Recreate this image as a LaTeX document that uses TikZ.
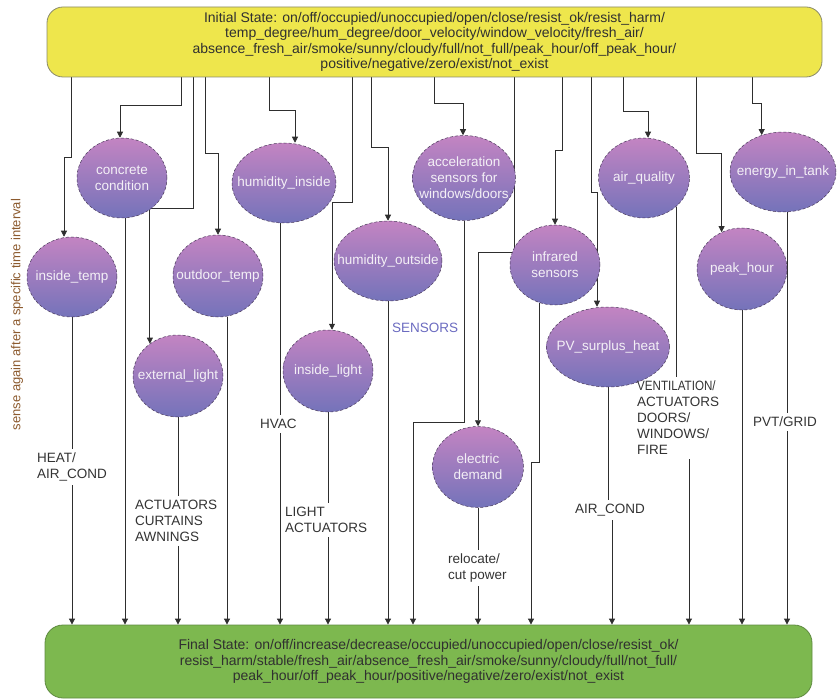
\documentclass[tikz,border=0pt]{standalone}
\usepackage{fontspec}
\usepackage{graphicx}
\setmainfont{Liberation Sans}
\usetikzlibrary{shapes.geometric,arrows.meta,calc}
\pgfdeclarelayer{bg}
\pgfsetlayers{bg,main}
\definecolor{topfill}{HTML}{EEE64C}
\definecolor{topdraw}{HTML}{8A8A6A}
\definecolor{botfill}{HTML}{7DB84F}
\definecolor{botdraw}{HTML}{5E8A40}
\definecolor{ellTop}{HTML}{C384C2}
\definecolor{ellBot}{HTML}{7473BA}
\definecolor{ellLine}{HTML}{4A3A5A}
\definecolor{lineC}{HTML}{2E2E2E}
\definecolor{lblC}{HTML}{333333}
\definecolor{boxTxt}{HTML}{303030}
\definecolor{sensC}{HTML}{6B6BC0}
\definecolor{sideC}{HTML}{8C5A2E}
\definecolor{ellTxt}{HTML}{F4F0F6}
\newcommand\ellnode[5]{%
  \node[ell, minimum width=#3pt, minimum height=#4pt] (#1) at (#2) {};
  \node[elltext] (#1t) at (#1.center) {#5};}
\begin{document}
\begin{tikzpicture}[x=1pt,y=-1pt,
  statebox/.style={line width=0.8pt, inner sep=0pt, align=center, text=boxTxt, font=\fontsize{14}{15.5}\selectfont},
  ell/.style={ellipse, draw=ellLine, densely dashed, line width=0.5pt, top color=ellTop, bottom color=ellBot, inner sep=0pt},
  elltext/.style={align=center, text=ellTxt, font=\fontsize{13.5}{16}\selectfont, inner sep=0pt},
  lbl/.style={align=left, text=lblC, font=\fontsize{13.5}{16}\selectfont, inner xsep=0pt, inner ysep=4pt, anchor=west},
  ln/.style={draw=lineC, line width=0.8pt},
  arr/.style={ln, -{Triangle[length=6pt,width=6pt]}},
]
\useasboundingbox (0,0) rectangle (837,700);

\node[statebox, rounded corners=16pt, fill=topfill, draw=topdraw, minimum width=775pt, minimum height=70pt] (init) at (434.5,42)
 {Initial State: on/off/occupied/unoccupied/open/close/resist\_ok/resist\_harm/\\
  temp\_degree/hum\_degree/door\_velocity/window\_velocity/fresh\_air/\\
  absence\_fresh\_air/smoke/sunny/cloudy/full/not\_full/peak\_hour/off\_peak\_hour/\\
  positive/negative/zero/exist/not\_exist};

\node[statebox, rounded corners=18pt, fill=botfill, draw=botdraw, minimum width=767pt, minimum height=73pt] (fin) at (428.5,661.5)
 {Final State: on/off/increase/decrease/occupied/unoccupied/open/close/resist\_ok/\\
  resist\_harm/stable/fresh\_air/absence\_fresh\_air/smoke/sunny/cloudy/full/not\_full/\\
  peak\_hour/off\_peak\_hour/positive/negative/zero/exist/not\_exist};

\ellnode{it}{72,277}{90}{80}{inside\_temp}
\ellnode{cc}{122,178}{90}{80}{concrete\\condition}
\ellnode{ot}{218,276}{90}{82}{outdoor\_temp}
\ellnode{hi}{284,183}{104}{80}{humidity\_inside}
\ellnode{ho}{388,261}{108}{80}{humidity\_outside}
\ellnode{ac}{464,178}{103}{85}{acceleration\\sensors for\\windows/doors}
\ellnode{ir}{555,265}{90}{80}{infrared\\sensors}
\ellnode{pv}{608,347}{123}{80}{PV\_surplus\_heat}
\ellnode{ed}{478,467}{91}{81}{electric\\demand}
\ellnode{aq}{644,178}{91}{80}{air\_quality}
\ellnode{et}{783,172}{106}{80}{energy\_in\_tank}
\ellnode{ph}{742,269}{90}{82}{peak\_hour}
\ellnode{el}{178,376}{90}{82}{external\_light}
\ellnode{il}{328,371}{90}{82}{inside\_light}

\node[lbl] (heat) at (37,467) {HEAT/\\AIR\_COND};
\node[lbl] (act) at (135,521) {ACTUATORS\\CURTAINS\\AWNINGS};
\node[lbl] (hvac) at (260,424) {HVAC};
\node[lbl] (lact) at (285,520) {LIGHT\\ACTUATORS};
\node[lbl, text=sensC] (sens) at (392,328) {SENSORS};
\node[lbl] (reloc) at (448,568) {relocate/\\cut power};
\node[lbl] (air2) at (575,510) {AIR\_COND};
\node[lbl] (vent) at (637,418) {\scalebox{0.86}[1]{VENTILATION/}\\ACTUATORS\\DOORS/\\WINDOWS/\\FIRE};
\node[lbl] (pvt) at (753,422) {PVT/GRID};

\node[rotate=90, text=sideC, inner sep=0pt, font=\fontsize{13}{15}\selectfont] (side) at (17,314.5) {sense again after a specific time interval};

\coordinate (ccb) at ($(cc.south)+(3,0)$);
\coordinate (otb) at ($(ot.south)+(9,0)$);
\coordinate (hib) at ($(hi.south)+(-4,0)$);
\coordinate (etb) at ($(et.south)+(4,0)$);
\coordinate (pvb) at ($(pv.south |- air2.south)+(4,0)$);
\coordinate (aqb) at ($(aq.318 |- vent.south)+(13,0)$);

\begin{pgfonlayer}{bg}
% from initial state to sensors
\draw[arr] ([xshift=25pt]init.south west) -- ++(0,80) -| ([xshift=-8pt]it.north);
\draw[arr] ([xshift=135pt]init.south west) -- ++(0,28) -| ([xshift=-2pt]cc.north);
\draw[arr] ([xshift=147pt]init.south west) -- ++(0,131) -| (el.131);
\draw[arr] ([xshift=159pt]init.south west) -- ++(0,76) -| (ot.north);
\draw[arr] ([xshift=223pt]init.south west) -- ++(0,33) -| ([xshift=11pt]hi.north);
\draw[arr] ([xshift=306pt]init.south west) -- ++(0,125) -| ([xshift=4pt]il.north);
\draw[arr] ([xshift=325pt]init.south west) -- ++(0,70) -| (ho.north);
\draw[arr] ([xshift=388pt]init.south west) -- ++(0,26) -| ([xshift=-1pt]ac.north);
\draw[arr] ([xshift=468pt]init.south west) -- ++(0,175) -| (ed.north);
\draw[arr] ([xshift=516pt]init.south west) -- ++(0,73) -| (ir.north);
\draw[arr] ([xshift=545pt]init.south west) -- ++(0,115) -| ([xshift=-11pt]pv.north);
\draw[arr] ([xshift=577pt]init.south west) -- ++(0,34) -| ([xshift=4pt]aq.north);
\draw[arr] ([xshift=650pt]init.south west) -- ++(0,76) -| (ph.119);
\draw[arr] ([xshift=706pt]init.south west) -- ++(0,26) -| (et.120);
% from sensors to final state
\draw[ln] (it.south) -- (it.south |- heat.north);
\draw[arr] (it.south |- heat.south) -- (it.south |- fin.north);
\draw[arr] (ccb) -- (ccb |- fin.north);
\draw[ln] (el.south) -- (el.south |- act.north);
\draw[arr] (el.south |- act.south) -- (el.south |- fin.north);
\draw[arr] (otb) -- (otb |- fin.north);
\draw[ln] (hib) -- (hib |- hvac.north);
\draw[arr] (hib |- hvac.south) -- (hib |- fin.north);
\draw[ln] (il.south) -- (il.south |- lact.north);
\draw[arr] (il.south |- lact.south) -- (il.south |- fin.north);
\draw[arr] (ho.south) -- (ho.south |- fin.north);
\draw[arr] (ac.south) -- ++(0,201.5) -| ($(fin.north)+(-15.5,0)$);
\draw[ln] (ed.south) -- (ed.south |- reloc.north);
\draw[arr] (ed.south |- reloc.south) -- (ed.south |- fin.north);
\draw[arr] (ir.248) -- ++(0,159.5) -| ($(fin.north)+(102.5,0)$);
\draw[ln] (pv.south) -- (pv.south |- air2.north);
\draw[arr] (pvb) -- (pvb |- fin.north);
\draw[ln] (aq.318) -- (aq.318 |- vent.north);
\draw[arr] (aqb) -- (aqb |- fin.north);
\draw[arr] (ph.south) -- (ph.south |- fin.north);
\draw[ln] (etb) -- (etb |- pvt.north);
\draw[arr] (etb |- pvt.south) -- (etb |- fin.north);
\end{pgfonlayer}
\end{tikzpicture}
\end{document}
